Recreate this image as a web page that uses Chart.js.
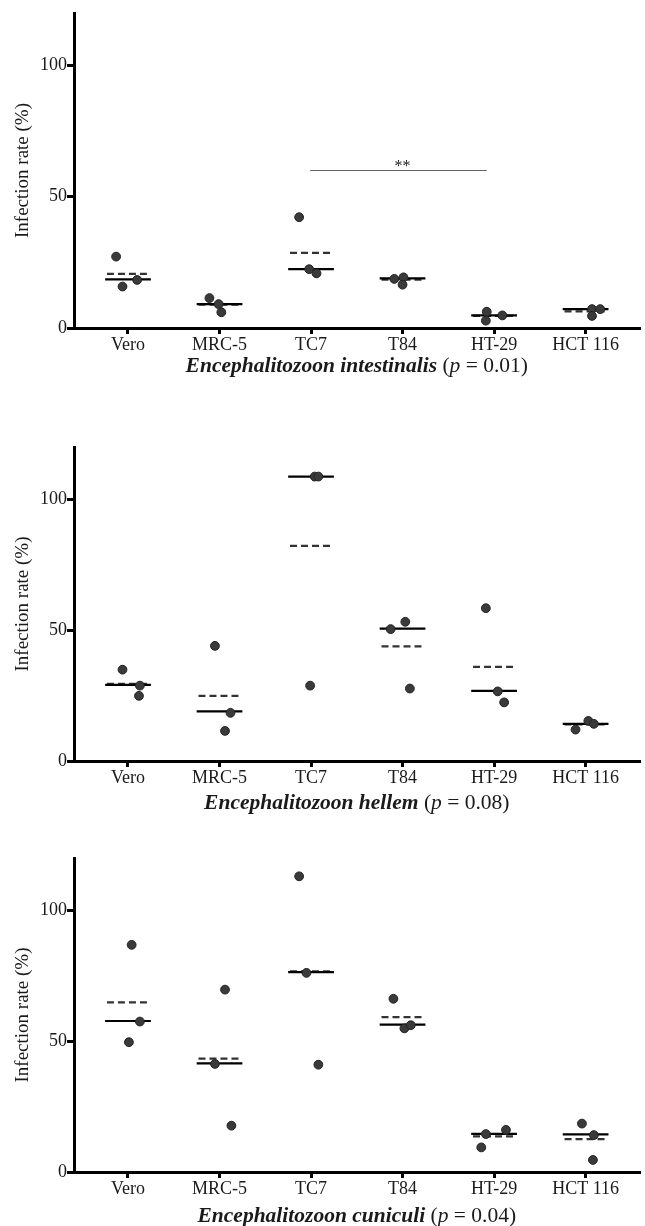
<!DOCTYPE html>
<html lang="en">
<head>
    <meta charset="UTF-8">
    <title>Infection rate by cell line</title>
    <script src="https://cdn.jsdelivr.net/npm/chart.js"></script>
    <style>
        body {
            margin: 0;
            background: #fff;
            width: 645px;
            height: 1226px;
            overflow: hidden;
        }
        .panel {
            position: absolute;
            left: 0;
        }
    </style>
</head>
<body>
    <div class="panel" style="top:0px"><canvas id="chartIntestinalis" width="645" height="400"></canvas></div>
    <div class="panel" style="top:400px"><canvas id="chartHellem" width="645" height="420"></canvas></div>
    <div class="panel" style="top:820px"><canvas id="chartCuniculi" width="645" height="406"></canvas></div>

    <script>
        // cell lines on the x axis
        const cellLines = ['Vero', 'MRC-5', 'TC7', 'T84', 'HT-29', 'HCT 116'];
        const yTicks = [0, 50, 100];

        // E. intestinalis, three replicates per cell line (%)
        const intestinalisValues = [[27.2, 15.8, 18.3], [11.4, 9.1, 6.0], [42.2, 22.4, 20.8], [18.7, 19.3, 16.5], [6.2, 2.8, 4.8], [7.2, 7.2, 4.6]];
        const intestinalisJitter = [[-0.13, -0.06, 0.10], [-0.11, -0.01, 0.02], [-0.13, -0.02, 0.06], [-0.09, 0.01, 0.0], [-0.08, -0.09, 0.09], [0.07, 0.16, 0.07]];
        const intestinalisMedian = [18.5, 9.1, 22.4, 18.9, 4.8, 7.2];
        const intestinalisMean = [20.6, 8.9, 28.6, 18.4, 4.6, 6.3];
        const intestinalisSig = [1.99, 3.92, 60]; // TC7 vs HT-29, **

        // E. hellem
        const hellemValues = [[34.9, 28.8, 24.9], [44.0, 18.4, 11.5], [108.7, 108.7, 28.8], [50.4, 53.2, 27.7], [58.4, 26.6, 22.4], [12.0, 15.3, 14.2]];
        const hellemJitter = [[-0.06, 0.13, 0.12], [-0.05, 0.12, 0.06], [0.04, 0.08, -0.01], [-0.13, 0.03, 0.08], [-0.09, 0.04, 0.11], [-0.11, 0.03, 0.09]];
        const hellemMedian = [29.1, 19.0, 108.7, 50.6, 26.8, 14.2];
        const hellemMean = [29.5, 24.9, 82.2, 43.8, 36.0, 14.0];

        // E. cuniculi
        const cuniculiValues = [[86.8, 57.5, 49.6], [69.7, 41.3, 17.7], [113.0, 76.1, 41.0], [66.2, 54.9, 56.1], [14.5, 16.1, 9.4], [18.5, 14.1, 4.6]];
        const cuniculiJitter = [[0.04, 0.13, 0.01], [0.06, -0.05, 0.13], [-0.13, -0.05, 0.08], [-0.10, 0.02, 0.09], [-0.09, 0.13, -0.14], [-0.04, 0.09, 0.08]];
        const cuniculiMedian = [57.7, 41.5, 76.4, 56.3, 14.6, 14.4];
        const cuniculiMean = [64.8, 43.3, 76.7, 59.2, 13.6, 12.6];

        const serif = '"Liberation Serif", "Times New Roman", serif';

        function pointData(values, jitter) {
            const out = [];
            values.forEach((reps, i) => {
                reps.forEach((v, j) => out.push({ x: i + jitter[i][j], y: v }));
            });
            return out;
        }

        function segmentData(vals, half) {
            const out = [];
            vals.forEach((v, i) => {
                out.push({ x: i - half, y: v }, { x: i + half, y: v }, { x: i + half, y: null });
            });
            return out;
        }

        // draws the italic / bold species caption under the axis, plus any star label
        const captionPlugin = {
            id: 'caption',
            afterDraw(chart, args, opts) {
                const ctx = chart.ctx;
                const area = chart.chartArea;
                const parts = opts.parts || [];
                ctx.save();
                ctx.fillStyle = '#1a1a1a';
                ctx.textBaseline = 'middle';
                let total = 0;
                parts.forEach(p => { ctx.font = p.font; total += ctx.measureText(p.text).width; });
                let x = (area.left + area.right) / 2 - total / 2;
                parts.forEach(p => {
                    ctx.font = p.font;
                    ctx.textAlign = 'left';
                    ctx.fillText(p.text, x, opts.y);
                    x += ctx.measureText(p.text).width;
                });
                if (opts.stars) {
                    const sx = chart.scales.x.getPixelForValue(opts.stars.x);
                    const sy = chart.scales.y.getPixelForValue(opts.stars.y);
                    ctx.font = '16px ' + serif;
                    ctx.textAlign = 'center';
                    ctx.textBaseline = 'bottom';
                    ctx.fillText(opts.stars.text, sx, sy + 4);
                }
                ctx.restore();
            }
        };

        function makePanel(id, canvasH, top, axisY, captionY, values, jitter, medians, means, species, pText, sig) {
            const datasets = [
                {
                    data: pointData(values, jitter),
                    backgroundColor: '#3a3a3a',
                    borderColor: '#222',
                    borderWidth: 1,
                    pointRadius: 4.4,
                    showLine: false
                },
                {
                    data: segmentData(medians, 0.25),
                    borderColor: '#000',
                    borderWidth: 2.2,
                    pointRadius: 0,
                    showLine: true,
                    spanGaps: false
                },
                {
                    data: segmentData(means, 0.23),
                    borderColor: '#333',
                    borderWidth: 2.2,
                    borderDash: [7, 4],
                    pointRadius: 0,
                    showLine: true,
                    spanGaps: false
                }
            ];
            if (sig) {
                datasets.push({
                    data: [{ x: sig[0], y: sig[2] }, { x: sig[1], y: sig[2] }],
                    borderColor: '#666',
                    borderWidth: 1.2,
                    pointRadius: 0,
                    showLine: true
                });
            }

            const capFont = '21.5px ' + serif;
            new Chart(document.getElementById(id), {
                type: 'scatter',
                data: { datasets: datasets },
                plugins: [captionPlugin],
                options: {
                    responsive: false,
                    animation: false,
                    layout: { padding: { top: top, right: 2, left: 0, bottom: 0 } },
                    plugins: {
                        legend: { display: false },
                        tooltip: { enabled: false },
                        caption: {
                            y: captionY,
                            parts: [
                                { text: species, font: 'italic bold ' + capFont },
                                { text: ' (', font: capFont },
                                { text: 'p', font: 'italic ' + capFont },
                                { text: ' = ' + pText + ')', font: capFont }
                            ],
                            stars: sig ? { x: 3, y: sig[2], text: '**' } : null
                        }
                    },
                    scales: {
                        x: {
                            type: 'linear',
                            min: -0.59,
                            max: 5.59,
                            afterBuildTicks: axis => { axis.ticks = cellLines.map((c, i) => ({ value: i })); },
                            afterFit: axis => { axis.height = canvasH - axisY; },
                            ticks: {
                                callback: v => cellLines[v],
                                color: '#1a1a1a',
                                padding: 0,
                                autoSkip: false,
                                maxRotation: 0,
                                font: { family: serif, size: 18 }
                            },
                            grid: { drawOnChartArea: false, drawTicks: true, tickLength: 6, lineWidth: 3, color: '#000' },
                            border: { display: true, width: 3, color: '#000' }
                        },
                        y: {
                            min: 0,
                            max: 120,
                            afterBuildTicks: axis => { axis.ticks = yTicks.map(v => ({ value: v })); },
                            afterFit: axis => { axis.width = 74; },
                            ticks: {
                                color: '#1a1a1a',
                                padding: 0,
                                font: { family: serif, size: 18 }
                            },
                            title: {
                                display: true,
                                text: 'Infection rate (%)',
                                color: '#1a1a1a',
                                padding: { top: 12, bottom: 0 },
                                font: { family: serif, size: 19 }
                            },
                            grid: { drawOnChartArea: false, drawTicks: true, tickLength: 7, lineWidth: 3, color: '#000' },
                            border: { display: true, width: 3, color: '#000' }
                        }
                    }
                }
            });
        }

        makePanel('chartIntestinalis', 400, 13, 328, 366, intestinalisValues, intestinalisJitter,
            intestinalisMedian, intestinalisMean, 'Encephalitozoon intestinalis', '0.01', intestinalisSig);
        makePanel('chartHellem', 420, 47, 361, 403, hellemValues, hellemJitter,
            hellemMedian, hellemMean, 'Encephalitozoon hellem', '0.08', null);
        makePanel('chartCuniculi', 406, 38, 352, 396, cuniculiValues, cuniculiJitter,
            cuniculiMedian, cuniculiMean, 'Encephalitozoon cuniculi', '0.04', null);
    </script>
</body>
</html>
